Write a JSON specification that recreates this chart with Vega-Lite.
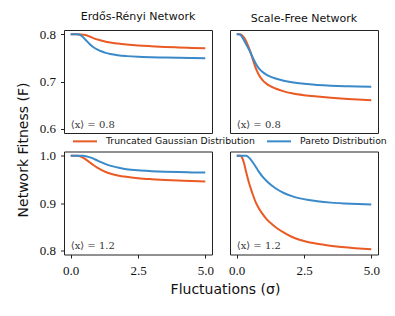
{
  "$schema": "https://vega.github.io/schema/vega-lite/v6.json",
  "background": "white",
  "padding": {"left": 15, "top": 10, "right": 5, "bottom": 5},
  "bounds": "flush",
  "columns": 2,
  "spacing": {"row": 18.5, "column": 18},
  "datasets": {
    "curves": [
      {"panel":"TL","dist":"Truncated Gaussian Distribution","sigma":0,"F":0.8},
      {"panel":"TL","dist":"Truncated Gaussian Distribution","sigma":0.2,"F":0.8},
      {"panel":"TL","dist":"Truncated Gaussian Distribution","sigma":0.4,"F":0.7998},
      {"panel":"TL","dist":"Truncated Gaussian Distribution","sigma":0.55,"F":0.7985},
      {"panel":"TL","dist":"Truncated Gaussian Distribution","sigma":0.7,"F":0.7955},
      {"panel":"TL","dist":"Truncated Gaussian Distribution","sigma":0.86,"F":0.7915},
      {"panel":"TL","dist":"Truncated Gaussian Distribution","sigma":1.0,"F":0.789},
      {"panel":"TL","dist":"Truncated Gaussian Distribution","sigma":1.2,"F":0.786},
      {"panel":"TL","dist":"Truncated Gaussian Distribution","sigma":1.47,"F":0.7827},
      {"panel":"TL","dist":"Truncated Gaussian Distribution","sigma":1.75,"F":0.7805},
      {"panel":"TL","dist":"Truncated Gaussian Distribution","sigma":2.08,"F":0.7785},
      {"panel":"TL","dist":"Truncated Gaussian Distribution","sigma":2.5,"F":0.7765},
      {"panel":"TL","dist":"Truncated Gaussian Distribution","sigma":3.0,"F":0.7748},
      {"panel":"TL","dist":"Truncated Gaussian Distribution","sigma":3.5,"F":0.7733},
      {"panel":"TL","dist":"Truncated Gaussian Distribution","sigma":4.0,"F":0.7722},
      {"panel":"TL","dist":"Truncated Gaussian Distribution","sigma":4.5,"F":0.7712},
      {"panel":"TL","dist":"Truncated Gaussian Distribution","sigma":5.0,"F":0.7703},
      {"panel":"TL","dist":"Pareto Distribution","sigma":0,"F":0.8},
      {"panel":"TL","dist":"Pareto Distribution","sigma":0.2,"F":0.8},
      {"panel":"TL","dist":"Pareto Distribution","sigma":0.3,"F":0.7995},
      {"panel":"TL","dist":"Pareto Distribution","sigma":0.42,"F":0.796},
      {"panel":"TL","dist":"Pareto Distribution","sigma":0.55,"F":0.7885},
      {"panel":"TL","dist":"Pareto Distribution","sigma":0.7,"F":0.7795},
      {"panel":"TL","dist":"Pareto Distribution","sigma":0.86,"F":0.772},
      {"panel":"TL","dist":"Pareto Distribution","sigma":1.0,"F":0.7675},
      {"panel":"TL","dist":"Pareto Distribution","sigma":1.16,"F":0.7635},
      {"panel":"TL","dist":"Pareto Distribution","sigma":1.3,"F":0.7607},
      {"panel":"TL","dist":"Pareto Distribution","sigma":1.47,"F":0.7582},
      {"panel":"TL","dist":"Pareto Distribution","sigma":1.75,"F":0.7556},
      {"panel":"TL","dist":"Pareto Distribution","sigma":2.08,"F":0.7538},
      {"panel":"TL","dist":"Pareto Distribution","sigma":2.5,"F":0.7524},
      {"panel":"TL","dist":"Pareto Distribution","sigma":3.0,"F":0.7514},
      {"panel":"TL","dist":"Pareto Distribution","sigma":3.5,"F":0.7507},
      {"panel":"TL","dist":"Pareto Distribution","sigma":4.0,"F":0.7502},
      {"panel":"TL","dist":"Pareto Distribution","sigma":4.5,"F":0.7498},
      {"panel":"TL","dist":"Pareto Distribution","sigma":5.0,"F":0.7495},
      {"panel":"TR","dist":"Truncated Gaussian Distribution","sigma":0,"F":0.8},
      {"panel":"TR","dist":"Truncated Gaussian Distribution","sigma":0.12,"F":0.8},
      {"panel":"TR","dist":"Truncated Gaussian Distribution","sigma":0.18,"F":0.799},
      {"panel":"TR","dist":"Truncated Gaussian Distribution","sigma":0.25,"F":0.7945},
      {"panel":"TR","dist":"Truncated Gaussian Distribution","sigma":0.33,"F":0.7875},
      {"panel":"TR","dist":"Truncated Gaussian Distribution","sigma":0.42,"F":0.776},
      {"panel":"TR","dist":"Truncated Gaussian Distribution","sigma":0.5,"F":0.764},
      {"panel":"TR","dist":"Truncated Gaussian Distribution","sigma":0.6,"F":0.746},
      {"panel":"TR","dist":"Truncated Gaussian Distribution","sigma":0.7,"F":0.7295},
      {"panel":"TR","dist":"Truncated Gaussian Distribution","sigma":0.8,"F":0.7165},
      {"panel":"TR","dist":"Truncated Gaussian Distribution","sigma":0.95,"F":0.7035},
      {"panel":"TR","dist":"Truncated Gaussian Distribution","sigma":1.1,"F":0.6955},
      {"panel":"TR","dist":"Truncated Gaussian Distribution","sigma":1.25,"F":0.69},
      {"panel":"TR","dist":"Truncated Gaussian Distribution","sigma":1.44,"F":0.6852},
      {"panel":"TR","dist":"Truncated Gaussian Distribution","sigma":1.75,"F":0.679},
      {"panel":"TR","dist":"Truncated Gaussian Distribution","sigma":2.05,"F":0.675},
      {"panel":"TR","dist":"Truncated Gaussian Distribution","sigma":2.5,"F":0.671},
      {"panel":"TR","dist":"Truncated Gaussian Distribution","sigma":3.0,"F":0.668},
      {"panel":"TR","dist":"Truncated Gaussian Distribution","sigma":3.5,"F":0.6655},
      {"panel":"TR","dist":"Truncated Gaussian Distribution","sigma":4.0,"F":0.6635},
      {"panel":"TR","dist":"Truncated Gaussian Distribution","sigma":4.5,"F":0.662},
      {"panel":"TR","dist":"Truncated Gaussian Distribution","sigma":5.0,"F":0.6605},
      {"panel":"TR","dist":"Pareto Distribution","sigma":0,"F":0.8},
      {"panel":"TR","dist":"Pareto Distribution","sigma":0.08,"F":0.8},
      {"panel":"TR","dist":"Pareto Distribution","sigma":0.14,"F":0.7985},
      {"panel":"TR","dist":"Pareto Distribution","sigma":0.22,"F":0.7925},
      {"panel":"TR","dist":"Pareto Distribution","sigma":0.33,"F":0.781},
      {"panel":"TR","dist":"Pareto Distribution","sigma":0.42,"F":0.7715},
      {"panel":"TR","dist":"Pareto Distribution","sigma":0.5,"F":0.763},
      {"panel":"TR","dist":"Pareto Distribution","sigma":0.6,"F":0.7505},
      {"panel":"TR","dist":"Pareto Distribution","sigma":0.7,"F":0.7385},
      {"panel":"TR","dist":"Pareto Distribution","sigma":0.8,"F":0.7295},
      {"panel":"TR","dist":"Pareto Distribution","sigma":0.95,"F":0.7206},
      {"panel":"TR","dist":"Pareto Distribution","sigma":1.1,"F":0.7145},
      {"panel":"TR","dist":"Pareto Distribution","sigma":1.25,"F":0.7102},
      {"panel":"TR","dist":"Pareto Distribution","sigma":1.44,"F":0.7064},
      {"panel":"TR","dist":"Pareto Distribution","sigma":1.75,"F":0.7018},
      {"panel":"TR","dist":"Pareto Distribution","sigma":2.05,"F":0.6985},
      {"panel":"TR","dist":"Pareto Distribution","sigma":2.5,"F":0.6952},
      {"panel":"TR","dist":"Pareto Distribution","sigma":3.0,"F":0.6928},
      {"panel":"TR","dist":"Pareto Distribution","sigma":3.5,"F":0.6912},
      {"panel":"TR","dist":"Pareto Distribution","sigma":4.0,"F":0.6901},
      {"panel":"TR","dist":"Pareto Distribution","sigma":4.5,"F":0.6893},
      {"panel":"TR","dist":"Pareto Distribution","sigma":5.0,"F":0.6888},
      {"panel":"BL","dist":"Truncated Gaussian Distribution","sigma":0,"F":1.0},
      {"panel":"BL","dist":"Truncated Gaussian Distribution","sigma":0.25,"F":1.0},
      {"panel":"BL","dist":"Truncated Gaussian Distribution","sigma":0.4,"F":0.9978},
      {"panel":"BL","dist":"Truncated Gaussian Distribution","sigma":0.53,"F":0.9935},
      {"panel":"BL","dist":"Truncated Gaussian Distribution","sigma":0.7,"F":0.9865},
      {"panel":"BL","dist":"Truncated Gaussian Distribution","sigma":0.84,"F":0.9805},
      {"panel":"BL","dist":"Truncated Gaussian Distribution","sigma":1.0,"F":0.9745},
      {"panel":"BL","dist":"Truncated Gaussian Distribution","sigma":1.15,"F":0.9698},
      {"panel":"BL","dist":"Truncated Gaussian Distribution","sigma":1.3,"F":0.9658},
      {"panel":"BL","dist":"Truncated Gaussian Distribution","sigma":1.46,"F":0.9626},
      {"panel":"BL","dist":"Truncated Gaussian Distribution","sigma":1.75,"F":0.9585},
      {"panel":"BL","dist":"Truncated Gaussian Distribution","sigma":2.07,"F":0.9555},
      {"panel":"BL","dist":"Truncated Gaussian Distribution","sigma":2.5,"F":0.9527},
      {"panel":"BL","dist":"Truncated Gaussian Distribution","sigma":3.0,"F":0.9505},
      {"panel":"BL","dist":"Truncated Gaussian Distribution","sigma":3.5,"F":0.9488},
      {"panel":"BL","dist":"Truncated Gaussian Distribution","sigma":4.0,"F":0.9475},
      {"panel":"BL","dist":"Truncated Gaussian Distribution","sigma":4.5,"F":0.9464},
      {"panel":"BL","dist":"Truncated Gaussian Distribution","sigma":5.0,"F":0.9455},
      {"panel":"BL","dist":"Pareto Distribution","sigma":0,"F":1.0},
      {"panel":"BL","dist":"Pareto Distribution","sigma":0.45,"F":1.0},
      {"panel":"BL","dist":"Pareto Distribution","sigma":0.6,"F":0.9988},
      {"panel":"BL","dist":"Pareto Distribution","sigma":0.72,"F":0.9968},
      {"panel":"BL","dist":"Pareto Distribution","sigma":0.84,"F":0.9942},
      {"panel":"BL","dist":"Pareto Distribution","sigma":1.0,"F":0.9898},
      {"panel":"BL","dist":"Pareto Distribution","sigma":1.15,"F":0.986},
      {"panel":"BL","dist":"Pareto Distribution","sigma":1.3,"F":0.9823},
      {"panel":"BL","dist":"Pareto Distribution","sigma":1.46,"F":0.9792},
      {"panel":"BL","dist":"Pareto Distribution","sigma":1.75,"F":0.9752},
      {"panel":"BL","dist":"Pareto Distribution","sigma":2.07,"F":0.9718},
      {"panel":"BL","dist":"Pareto Distribution","sigma":2.5,"F":0.9692},
      {"panel":"BL","dist":"Pareto Distribution","sigma":3.0,"F":0.9675},
      {"panel":"BL","dist":"Pareto Distribution","sigma":3.5,"F":0.9663},
      {"panel":"BL","dist":"Pareto Distribution","sigma":4.0,"F":0.9655},
      {"panel":"BL","dist":"Pareto Distribution","sigma":4.5,"F":0.9649},
      {"panel":"BL","dist":"Pareto Distribution","sigma":5.0,"F":0.9645},
      {"panel":"BR","dist":"Truncated Gaussian Distribution","sigma":0,"F":1.0},
      {"panel":"BR","dist":"Truncated Gaussian Distribution","sigma":0.14,"F":1.0},
      {"panel":"BR","dist":"Truncated Gaussian Distribution","sigma":0.2,"F":0.996},
      {"panel":"BR","dist":"Truncated Gaussian Distribution","sigma":0.27,"F":0.985},
      {"panel":"BR","dist":"Truncated Gaussian Distribution","sigma":0.33,"F":0.9705},
      {"panel":"BR","dist":"Truncated Gaussian Distribution","sigma":0.39,"F":0.9565},
      {"panel":"BR","dist":"Truncated Gaussian Distribution","sigma":0.45,"F":0.944},
      {"panel":"BR","dist":"Truncated Gaussian Distribution","sigma":0.52,"F":0.931},
      {"panel":"BR","dist":"Truncated Gaussian Distribution","sigma":0.6,"F":0.9175},
      {"panel":"BR","dist":"Truncated Gaussian Distribution","sigma":0.7,"F":0.9025},
      {"panel":"BR","dist":"Truncated Gaussian Distribution","sigma":0.82,"F":0.889},
      {"panel":"BR","dist":"Truncated Gaussian Distribution","sigma":0.945,"F":0.878},
      {"panel":"BR","dist":"Truncated Gaussian Distribution","sigma":1.1,"F":0.8665},
      {"panel":"BR","dist":"Truncated Gaussian Distribution","sigma":1.32,"F":0.8545},
      {"panel":"BR","dist":"Truncated Gaussian Distribution","sigma":1.5,"F":0.8465},
      {"panel":"BR","dist":"Truncated Gaussian Distribution","sigma":1.74,"F":0.8375},
      {"panel":"BR","dist":"Truncated Gaussian Distribution","sigma":2.0,"F":0.8295},
      {"panel":"BR","dist":"Truncated Gaussian Distribution","sigma":2.36,"F":0.8215},
      {"panel":"BR","dist":"Truncated Gaussian Distribution","sigma":2.8,"F":0.8155},
      {"panel":"BR","dist":"Truncated Gaussian Distribution","sigma":3.28,"F":0.811},
      {"panel":"BR","dist":"Truncated Gaussian Distribution","sigma":3.8,"F":0.8072},
      {"panel":"BR","dist":"Truncated Gaussian Distribution","sigma":4.4,"F":0.8042},
      {"panel":"BR","dist":"Truncated Gaussian Distribution","sigma":5.0,"F":0.8017},
      {"panel":"BR","dist":"Pareto Distribution","sigma":0,"F":1.0},
      {"panel":"BR","dist":"Pareto Distribution","sigma":0.35,"F":1.0},
      {"panel":"BR","dist":"Pareto Distribution","sigma":0.42,"F":0.998},
      {"panel":"BR","dist":"Pareto Distribution","sigma":0.5,"F":0.9935},
      {"panel":"BR","dist":"Pareto Distribution","sigma":0.58,"F":0.9875},
      {"panel":"BR","dist":"Pareto Distribution","sigma":0.7,"F":0.9775},
      {"panel":"BR","dist":"Pareto Distribution","sigma":0.82,"F":0.9665},
      {"panel":"BR","dist":"Pareto Distribution","sigma":0.95,"F":0.9565},
      {"panel":"BR","dist":"Pareto Distribution","sigma":1.13,"F":0.9455},
      {"panel":"BR","dist":"Pareto Distribution","sigma":1.3,"F":0.937},
      {"panel":"BR","dist":"Pareto Distribution","sigma":1.44,"F":0.9312},
      {"panel":"BR","dist":"Pareto Distribution","sigma":1.75,"F":0.9212},
      {"panel":"BR","dist":"Pareto Distribution","sigma":2.05,"F":0.9146},
      {"panel":"BR","dist":"Pareto Distribution","sigma":2.35,"F":0.9098},
      {"panel":"BR","dist":"Pareto Distribution","sigma":2.67,"F":0.9062},
      {"panel":"BR","dist":"Pareto Distribution","sigma":3.0,"F":0.9036},
      {"panel":"BR","dist":"Pareto Distribution","sigma":3.5,"F":0.9008},
      {"panel":"BR","dist":"Pareto Distribution","sigma":4.0,"F":0.8991},
      {"panel":"BR","dist":"Pareto Distribution","sigma":4.5,"F":0.8979},
      {"panel":"BR","dist":"Pareto Distribution","sigma":5.0,"F":0.897}
    ],
    "notes": [
      {"panel":"TL","sigma":0,"F":0.607,"label":"⟨x⟩ = 0.8"},
      {"panel":"TR","sigma":0,"F":0.607,"label":"⟨x⟩ = 0.8"},
      {"panel":"BL","sigma":0,"F":0.8095,"label":"⟨x⟩ = 1.2"},
      {"panel":"BR","sigma":0,"F":0.8095,"label":"⟨x⟩ = 1.2"}
    ]
  },
  "concat": [
    {
      "width": 148, "height": 103,
      "title": "Erdős-Rényi Network",
      "encoding": {
        "x": {"field":"sigma","type":"quantitative","scale":{"domain":[-0.25,5.25],"nice":false,"zero":false},"axis":null},
        "y": {"field":"F","type":"quantitative","scale":{"domain":[0.5908,0.8092],"nice":false,"zero":false},"axis":{"values":[0.6,0.7,0.8],"format":".1f","title":null}}
      },
      "layer": [
        {"data":{"name":"curves"},"transform":[{"filter":"datum.panel === 'TL'"}],
         "mark":{"type":"line","interpolate":"monotone","strokeWidth":2},
         "encoding":{"color":{"field":"dist","type":"nominal","scale":{"domain":["Truncated Gaussian Distribution","Pareto Distribution"],"range":["#ea5a24","#3a89c9"]},"legend":{"title":null}}}},
        {"data":{"name":"notes"},"transform":[{"filter":"datum.panel === 'TL'"}],
         "mark":{"type":"text","align":"left","baseline":"middle","font":"DejaVu Serif","fontSize":10,"color":"#333"},
         "encoding":{"text":{"field":"label"}}}
      ]
    },
    {
      "width": 148, "height": 103,
      "title": "Scale-Free Network",
      "encoding": {
        "x": {"field":"sigma","type":"quantitative","scale":{"domain":[-0.25,5.25],"nice":false,"zero":false},"axis":null},
        "y": {"field":"F","type":"quantitative","scale":{"domain":[0.5908,0.8092],"nice":false,"zero":false},"axis":null}
      },
      "layer": [
        {"data":{"name":"curves"},"transform":[{"filter":"datum.panel === 'TR'"}],
         "mark":{"type":"line","interpolate":"monotone","strokeWidth":2},
         "encoding":{"color":{"field":"dist","type":"nominal","scale":{"domain":["Truncated Gaussian Distribution","Pareto Distribution"],"range":["#ea5a24","#3a89c9"]},"legend":{"title":null}}}},
        {"data":{"name":"notes"},"transform":[{"filter":"datum.panel === 'TR'"}],
         "mark":{"type":"text","align":"left","baseline":"middle","font":"DejaVu Serif","fontSize":10,"color":"#333"},
         "encoding":{"text":{"field":"label"}}}
      ]
    },
    {
      "width": 148, "height": 103,
      "encoding": {
        "x": {"field":"sigma","type":"quantitative","scale":{"domain":[-0.25,5.25],"nice":false,"zero":false},"axis":{"values":[0,2.5,5],"format":".1f","title":"Fluctuations (σ)","titleX":161,"titleAnchor":"middle"}},
        "y": {"field":"F","type":"quantitative","scale":{"domain":[0.7908,1.0092],"nice":false,"zero":false},"axis":{"values":[0.8,0.9,1.0],"format":".1f","title":"Network Fitness (F)","titleY":-2}}
      },
      "layer": [
        {"data":{"name":"curves"},"transform":[{"filter":"datum.panel === 'BL'"}],
         "mark":{"type":"line","interpolate":"monotone","strokeWidth":2},
         "encoding":{"color":{"field":"dist","type":"nominal","scale":{"domain":["Truncated Gaussian Distribution","Pareto Distribution"],"range":["#ea5a24","#3a89c9"]},"legend":{"title":null}}}},
        {"data":{"name":"notes"},"transform":[{"filter":"datum.panel === 'BL'"}],
         "mark":{"type":"text","align":"left","baseline":"middle","font":"DejaVu Serif","fontSize":10,"color":"#333"},
         "encoding":{"text":{"field":"label"}}}
      ]
    },
    {
      "width": 148, "height": 103,
      "encoding": {
        "x": {"field":"sigma","type":"quantitative","scale":{"domain":[-0.25,5.25],"nice":false,"zero":false},"axis":{"values":[0,2.5,5],"format":".1f","title":null}},
        "y": {"field":"F","type":"quantitative","scale":{"domain":[0.7908,1.0092],"nice":false,"zero":false},"axis":null}
      },
      "layer": [
        {"data":{"name":"curves"},"transform":[{"filter":"datum.panel === 'BR'"}],
         "mark":{"type":"line","interpolate":"monotone","strokeWidth":2},
         "encoding":{"color":{"field":"dist","type":"nominal","scale":{"domain":["Truncated Gaussian Distribution","Pareto Distribution"],"range":["#ea5a24","#3a89c9"]},"legend":{"title":null}}}},
        {"data":{"name":"notes"},"transform":[{"filter":"datum.panel === 'BR'"}],
         "mark":{"type":"text","align":"left","baseline":"middle","font":"DejaVu Serif","fontSize":10,"color":"#333"},
         "encoding":{"text":{"field":"label"}}}
      ]
    }
  ],
  "config": {
    "view": {"stroke": "#222", "strokeWidth": 1},
    "font": "DejaVu Sans",
    "axis": {"grid": false, "domain": false, "tickColor": "#222", "tickSize": 3.5, "tickWidth": 1, "labelFont": "Liberation Serif", "labelFontSize": 13, "labelColor": "#111", "titleFont": "DejaVu Sans", "titleFontSize": 14, "titleFontWeight": "normal", "titleColor": "#111"},
    "axisX": {"labelPadding": 6.5, "titlePadding": 5},
    "axisY": {"labelPadding": 5, "titlePadding": 9},
    "title": {"font": "DejaVu Sans", "fontSize": 11, "fontWeight": "normal", "color": "#111", "offset": 6},
    "legend": {"orient": "none", "legendX": 8, "legendY": 98, "direction": "horizontal", "symbolType": "stroke", "symbolSize": 576, "symbolStrokeWidth": 2, "labelFont": "DejaVu Sans", "labelFontSize": 9.3, "labelColor": "#111", "labelOffset": 8, "columnPadding": 8, "padding": 0}
  }
}
